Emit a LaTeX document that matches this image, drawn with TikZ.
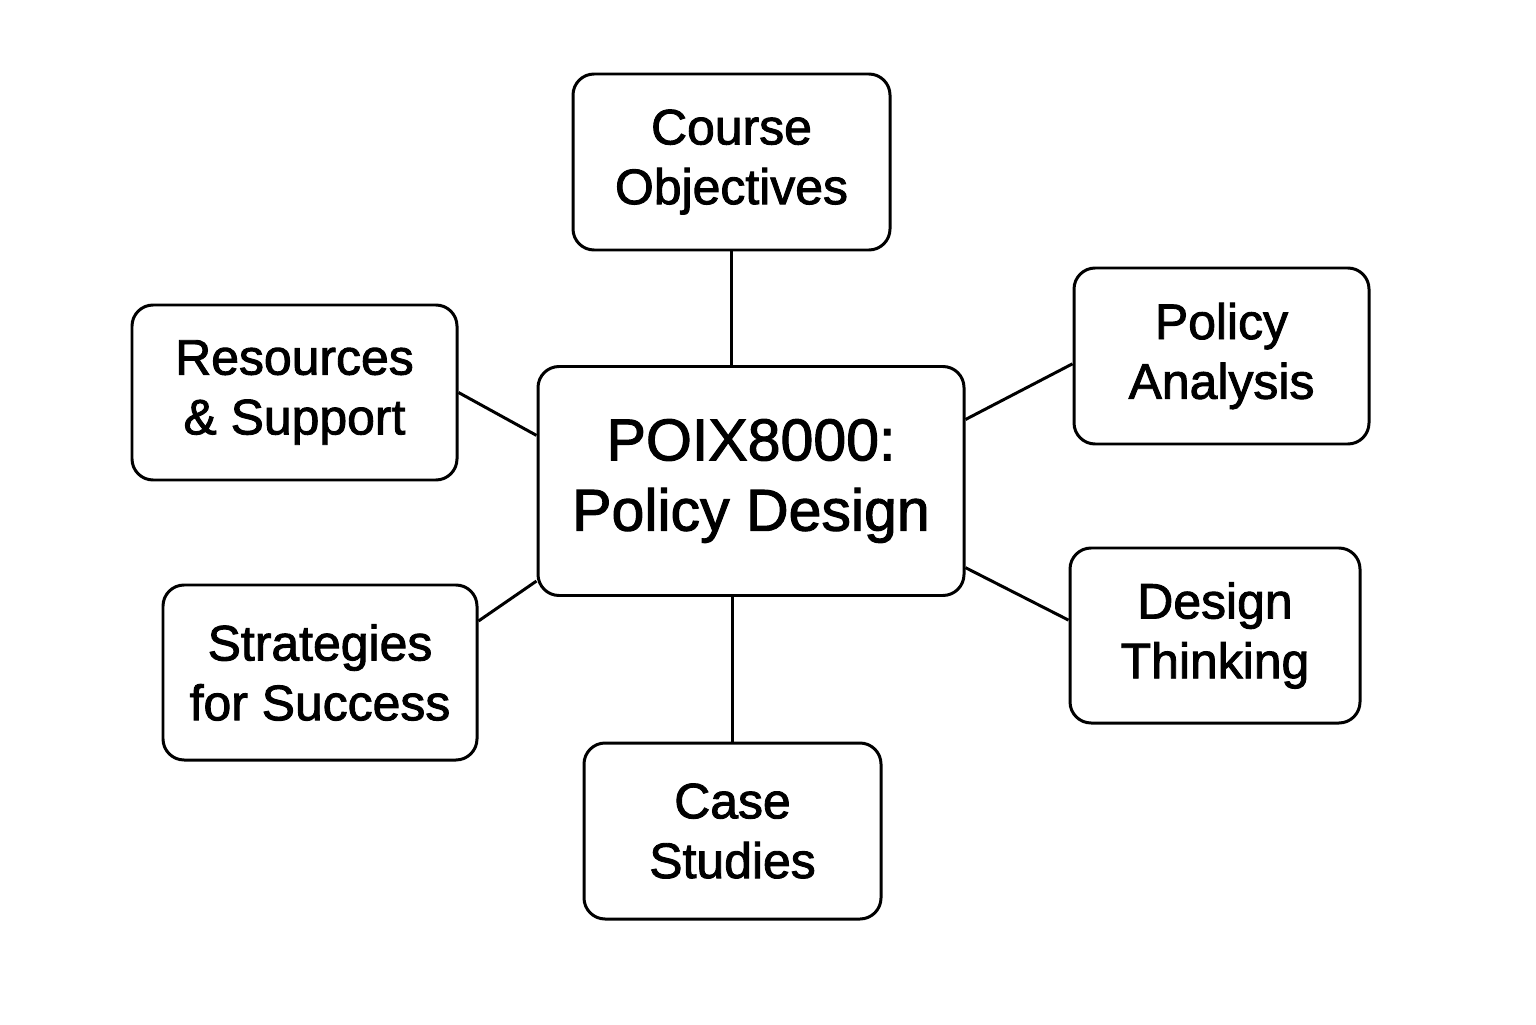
\documentclass[tikz,border=0pt]{standalone}
\usepackage{fontspec}
\setmainfont{Liberation Sans}[FakeBold=1.8]
\tikzset{
  topic/.style={draw, line width=0.85pt, rounded corners=6pt, align=center,
    font=\fontsize{14.2}{17}\selectfont},
  hubbox/.style={topic, font=\fontsize{16.8}{20}\selectfont}
}
\begin{document}
\begin{tikzpicture}
  \useasboundingbox [fill=white] (0,0) rectangle (15.36,10.24);
  \node [hubbox, minimum width=4.26cm, minimum height=2.29cm] (hub) at (7.51,5.43)
        {POIX8000:\\Policy Design};
  \node [topic, minimum width=3.17cm, minimum height=1.76cm] (obj) at (7.315,8.62)
        {Course\\Objectives};
  \node [topic, minimum width=2.95cm, minimum height=1.76cm] (ana) at (12.215,6.68)
        {Policy\\Analysis};
  \node [topic, minimum width=2.90cm, minimum height=1.75cm] (des) at (12.15,3.885)
        {Design\\Thinking};
  \node [topic, minimum width=2.97cm, minimum height=1.76cm] (cas) at (7.325,1.93)
        {Case\\Studies};
  \node [topic, minimum width=3.14cm, minimum height=1.75cm] (str) at (3.20,3.515)
        {Strategies\\for Success};
  \node [topic, minimum width=3.25cm, minimum height=1.75cm] (res) at (2.945,6.315)
        {Resources\\\& Support};
  \draw [line width=0.85pt] (obj.south) -- (obj.south |- hub.north);
  \draw [line width=0.85pt] (cas.north) -- (cas.north |- hub.south);
  \draw [line width=0.85pt] (res.east) -- (hub.168);
  \draw [line width=0.85pt] (str.18) -- (hub.205);
  \draw [line width=0.85pt] (hub.16) -- (ana.183.5);
  \draw [line width=0.85pt] (hub.338.7) -- (des.174);
\end{tikzpicture}
\end{document}
